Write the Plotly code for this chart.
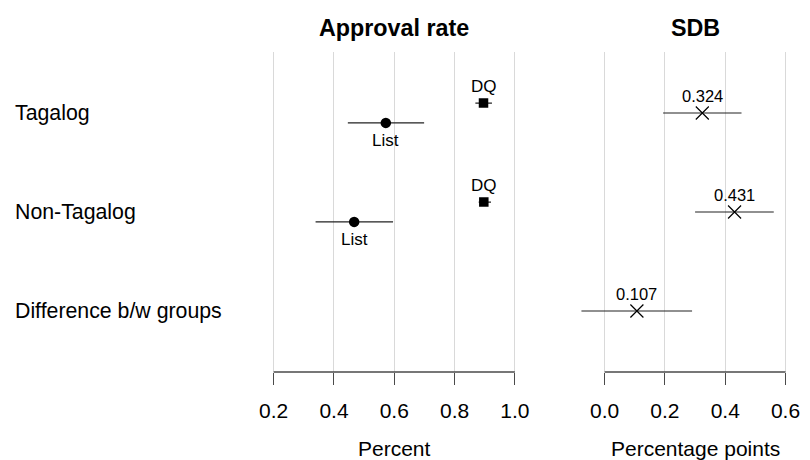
import plotly.graph_objects as go

# ---- data ----
groups = ["Tagalog", "Non-Tagalog", "Difference b/w groups"]

dq_est = [0.896, 0.897]
dq_low = [0.869, 0.880]
dq_high = [0.924, 0.921]

list_est = [0.572, 0.467]
list_low = [0.446, 0.339]
list_high = [0.699, 0.596]

sdb_est = [0.324, 0.431, 0.107]
sdb_low = [0.194, 0.300, -0.077]
sdb_high = [0.454, 0.561, 0.290]

left_ticks = [0.2, 0.4, 0.6, 0.8, 1.0]
left_ticktext = ["0.2", "0.4", "0.6", "0.8", "1.0"]
right_ticks = [0.0, 0.2, 0.4, 0.6]
right_ticktext = ["0.0", "0.2", "0.4", "0.6"]

FONT = "Liberation Sans, Arial, sans-serif"
AXC = "#4a4a4a"
ERRC = "#222222"
n = len(groups)
rows = [n - i for i in range(n)]  # Tagalog on top
off = 0.1

fig = go.Figure()

# DQ squares
dq_y = [rows[i] + off for i in range(len(dq_est))]
fig.add_trace(go.Scatter(
    x=dq_est, y=dq_y, mode="markers", xaxis="x", yaxis="y",
    marker=dict(symbol="square", size=9.5, color="black"),
    error_x=dict(type="data", symmetric=False,
                 array=[h - e for h, e in zip(dq_high, dq_est)],
                 arrayminus=[e - l for e, l in zip(dq_est, dq_low)],
                 width=0, thickness=1.2, color=ERRC),
    showlegend=False, hoverinfo="skip"))

# List circles
list_y = [rows[i] - off for i in range(len(list_est))]
fig.add_trace(go.Scatter(
    x=list_est, y=list_y, mode="markers", xaxis="x", yaxis="y",
    marker=dict(symbol="circle", size=10.5, color="black"),
    error_x=dict(type="data", symmetric=False,
                 array=[h - e for h, e in zip(list_high, list_est)],
                 arrayminus=[e - l for e, l in zip(list_est, list_low)],
                 width=0, thickness=1.2, color=ERRC),
    showlegend=False, hoverinfo="skip"))

# SDB crosses
fig.add_trace(go.Scatter(
    x=sdb_est, y=rows, mode="markers", xaxis="x2", yaxis="y2",
    marker=dict(symbol="x-thin-open", size=13, color="black",
                line=dict(width=1.2, color=ERRC)),
    error_x=dict(type="data", symmetric=False,
                 array=[h - e for h, e in zip(sdb_high, sdb_est)],
                 arrayminus=[e - l for e, l in zip(sdb_est, sdb_low)],
                 width=0, thickness=1.2, color=ERRC),
    showlegend=False, hoverinfo="skip"))

annotations = []
for i, v in enumerate(dq_est):
    annotations.append(dict(x=v, y=dq_y[i], xref="x", yref="y", text="DQ",
                            showarrow=False, yshift=17, xanchor="center",
                            font=dict(size=17, color="black", family=FONT)))
for i, v in enumerate(list_est):
    annotations.append(dict(x=v, y=list_y[i], xref="x", yref="y", text="List",
                            showarrow=False, yshift=-18, xanchor="center",
                            font=dict(size=17, color="black", family=FONT)))
for i, v in enumerate(sdb_est):
    annotations.append(dict(x=v, y=rows[i], xref="x2", yref="y2", text=f"{v:.3f}",
                            showarrow=False, yshift=17, xanchor="center",
                            font=dict(size=16.5, color="black", family=FONT)))
for i, g in enumerate(groups):
    annotations.append(dict(x=14 / 810, y=rows[i], xref="paper", yref="y", text=g,
                            showarrow=False, xanchor="left", xshift=-4,
                            font=dict(size=21.3, color="black", family=FONT)))

# panel titles
annotations.append(dict(x=(left_ticks[0] + left_ticks[-1]) / 2, y=(372 - 28) / 320,
                        xref="x", yref="paper", text="<b>Approval rate</b>",
                        showarrow=False, yanchor="middle", xanchor="center",
                        font=dict(size=23.3, color="black", family=FONT)))
annotations.append(dict(x=(right_ticks[0] + right_ticks[-1]) / 2, y=(372 - 28) / 320,
                        xref="x2", yref="paper", text="<b>SDB</b>",
                        showarrow=False, yanchor="middle", xanchor="center",
                        font=dict(size=23.3, color="black", family=FONT)))
# axis titles
annotations.append(dict(x=(left_ticks[0] + left_ticks[-1]) / 2, y=(372 - 448) / 320,
                        xref="x", yref="paper", text="Percent",
                        showarrow=False, yanchor="middle", xanchor="center",
                        font=dict(size=21, color="black", family=FONT)))
annotations.append(dict(x=(right_ticks[0] + right_ticks[-1]) / 2, y=(372 - 448) / 320,
                        xref="x2", yref="paper", text="Percentage points",
                        showarrow=False, yanchor="middle", xanchor="center",
                        font=dict(size=21, color="black", family=FONT)))

# axis lines spanning first..last tick
shapes = [
    dict(type="line", xref="x", yref="y domain", x0=left_ticks[0], x1=left_ticks[-1],
         y0=0, y1=0, line=dict(color=AXC, width=1.4)),
    dict(type="line", xref="x2", yref="y2 domain", x0=right_ticks[0], x1=right_ticks[-1],
         y0=0, y1=0, line=dict(color=AXC, width=1.4)),
]

axis_common = dict(showline=False, zeroline=False, showgrid=True,
                   gridcolor="#d9d9d9", gridwidth=1,
                   ticks="outside", ticklen=12, tickwidth=1.4, tickcolor=AXC,
                   tickfont=dict(size=21, color="black", family=FONT),
                   ticklabelstandoff=8, fixedrange=True)

fig.update_layout(
    width=810, height=460,
    margin=dict(l=0, r=0, t=52, b=88),
    paper_bgcolor="white", plot_bgcolor="white",
    font=dict(family=FONT, color="black"),
    xaxis=dict(domain=[262.5 / 810, 531.8 / 810], range=[0.16, 1.04],
               tickvals=left_ticks, ticktext=left_ticktext, anchor="y", **axis_common),
    xaxis2=dict(domain=[580.1 / 810, 800.4 / 810], range=[-0.1, 0.62],
                tickvals=right_ticks, ticktext=right_ticktext, anchor="y2", **axis_common),
    yaxis=dict(range=[0.384, 3.616], visible=False, fixedrange=True, anchor="x"),
    yaxis2=dict(range=[0.384, 3.616], visible=False, fixedrange=True, anchor="x2"),
    annotations=annotations, shapes=shapes,
)

fig.write_html("out.html", config={"displayModeBar": False},
               post_script="document.body.style.margin='0';document.body.style.overflow='hidden';")
